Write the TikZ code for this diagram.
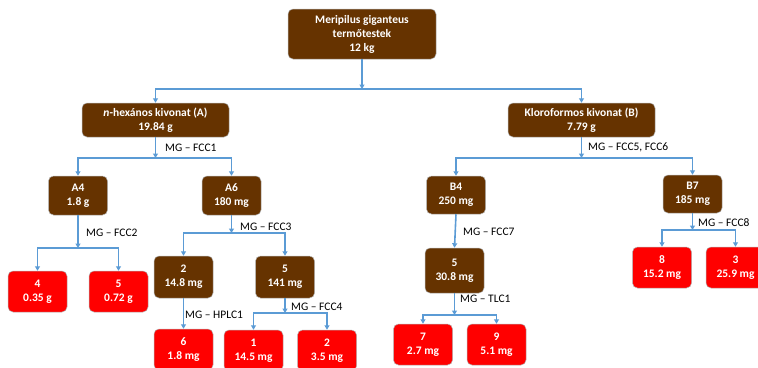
\documentclass[tikz,border=0pt]{standalone}
\usepackage{fontspec}
\setmainfont{Carlito}
\usepackage{tikz}
\usepackage{xcolor}
\usetikzlibrary{arrows.meta, positioning}

\definecolor{fruitbrown}{RGB}{102,51,0}
\definecolor{fracred}{RGB}{255,0,0}
\definecolor{flowblue}{RGB}{91,155,213}

\tikzset{
  extract/.style={rounded corners=5pt, fill=fruitbrown, draw=gray!60, line width=0.5pt,
    text=white, font=\fontsize{11.5}{14}\selectfont\bfseries, align=center,
    inner sep=0pt, minimum width=59pt, minimum height=41pt},
  fraction/.style={extract, fill=fracred},
  flow/.style={draw=flowblue, line width=1.6pt, -{Triangle[length=4.5pt,width=5pt]}},
  method/.style={font=\fontsize{11.5}{14}\selectfont, anchor=west, inner sep=0pt},
}

\begin{document}
\begin{tikzpicture}[x=1pt, y=-1pt]
\useasboundingbox (0,0) rectangle (758,367);
\clip (0,0) rectangle (758,367);

\node[extract, minimum width=148pt, minimum height=50pt] (fruit) at (362,34)
    {Meripilus giganteus\\termőtestek\\12 kg};

\node[extract, minimum width=147pt, minimum height=34pt] (hex) at (155.5,120)
    {\textit{n}-hexános kivonat (A)\\19.84 g};
\node[extract, minimum width=147pt, minimum height=34pt] (chl) at (581.5,120)
    {Kloroformos kivonat (B)\\7.79 g};

\node[extract, minimum height=39pt] (a4) at (78,195.5) {A4\\1.8 g};
\node[extract, minimum height=39pt] (a6) at (231.5,195.5) {A6\\180 mg};
\node[extract, minimum height=38pt] (b4) at (456,195) {B4\\250 mg};
\node[extract, minimum height=38pt] (b7) at (692.5,194) {B7\\185 mg};

\node[fraction] (f4) at (37.5,291.5) {4\\0.35 g};
\node[fraction] (f5) at (118.5,291.5) {5\\0.72 g};
\node[extract, minimum height=42pt] (a62) at (183.5,277) {2\\14.8 mg};
\node[extract, minimum height=42pt] (a65) at (285,277) {5\\141 mg};
\node[fraction] (f6) at (183.5,349.5) {6\\1.8 mg};
\node[fraction] (f1) at (253.5,350.5) {1\\14.5 mg};
\node[fraction] (f2) at (327,350.5) {2\\3.5 mg};

\node[extract, minimum height=45pt] (b45) at (454.5,270.5) {5\\30.8 mg};
\node[fraction] (f7) at (423,344.5) {7\\2.7 mg};
\node[fraction] (f9) at (496.5,344.5) {9\\5.1 mg};
\node[fraction] (f8) at (662,267.5) {8\\15.2 mg};
\node[fraction] (f3) at (735.5,267.5) {3\\25.9 mg};

% junctions
\coordinate (jfruit) at (362,89);
\coordinate (jhex) at (155.5,158);
\coordinate (jchl) at (581.5,158);
\coordinate (ja4) at (78,248);
\coordinate (ja6) at (231.5,233);
\coordinate (ja65) at (285,313);
\coordinate (jb45) at (454.5,315);
\coordinate (jb7) at (692.5,230);

\draw[flow] (fruit.south) -- (jfruit);
\draw[flow] (jfruit) -| (hex.north);
\draw[flow] (jfruit) -| (chl.north);

\draw[flow] (hex.south) -- (jhex);
\draw[flow] (jhex) -| (a4.north);
\draw[flow] (jhex) -| (a6.north);
\draw[flow] (chl.south) -- (jchl);
\draw[flow] (jchl) -| (b4.north);
\draw[flow] (jchl) -| (b7.north);

\draw[flow] (a4.south) -- (ja4);
\draw[flow] (ja4) -| (f4.north);
\draw[flow] (ja4) -| (f5.north);
\draw[flow] (a6.south) -- (ja6);
\draw[flow] (ja6) -| (a62.north);
\draw[flow] (ja6) -| (a65.north);
\draw[flow] (a62.south) -- (f6.north);
\draw[flow] (a65.south) -- (ja65);
\draw[flow] (ja65) -| (f1.north);
\draw[flow] (ja65) -| (f2.north);

\draw[flow] (b4.south) -- (b45.north);
\draw[flow] (b45.south) -- (jb45);
\draw[flow] (jb45) -| (f7.north);
\draw[flow] (jb45) -| (f9.north);
\draw[flow] (b7.south) -- (jb7);
\draw[flow] (jb7) -| (f8.north);
\draw[flow] (jb7) -| (f3.north);

\node[method] (mfcc1) at (165,148) {MG -- FCC1};
\node[method] (mfcc56) at (588,147) {MG -- FCC5, FCC6};
\node[method] (mfcc2) at (86,233) {MG -- FCC2};
\node[method] (mfcc3) at (240,227) {MG -- FCC3};
\node[method] (mhplc1) at (185,315) {MG -- HPLC1};
\node[method] (mfcc4) at (291,307) {MG -- FCC4};
\node[method] (mfcc7) at (463,232) {MG -- FCC7};
\node[method] (mtlc1) at (460,299) {MG -- TLC1};
\node[method] (mfcc8) at (698,223) {MG -- FCC8};
\end{tikzpicture}
\end{document}
